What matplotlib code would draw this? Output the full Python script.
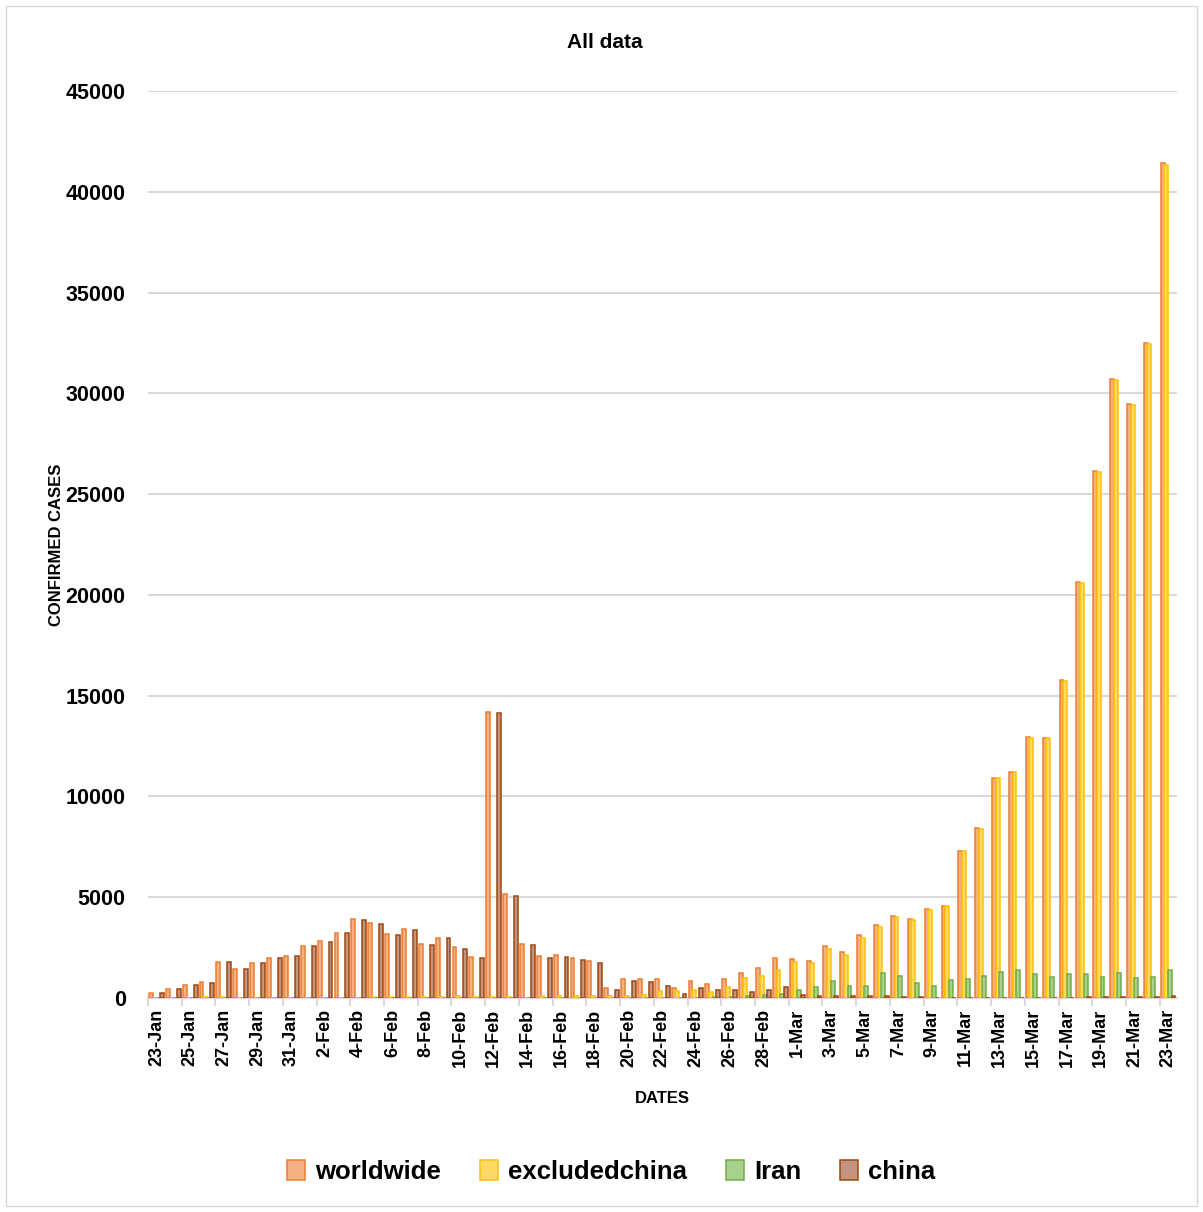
import numpy as np
import matplotlib
matplotlib.use("Agg")
import matplotlib.pyplot as plt
from matplotlib.patches import Rectangle

plt.rcParams['font.family'] = ['Liberation Sans', 'DejaVu Sans']
plt.rcParams['font.weight'] = 'bold'

# daily new confirmed cases, 23 Jan .. 23 Mar
dates = (['%d-Jan' % d for d in range(23, 32)] +
         ['%d-Feb' % d for d in range(1, 30)] +
         ['%d-Mar' % d for d in range(1, 24)])

worldwide = [250, 450, 660, 780, 1790, 1460, 1740, 1990, 2090, 2590,
             2820, 3240, 3900, 3735, 3190, 3440, 2670, 2990, 2540, 2025,
             14180, 5150, 2660, 2075, 2110, 1990, 1840, 500, 950, 960,
             950, 515, 860, 700, 960, 1260, 1480, 1960, 1950, 1840,
             2570, 2280, 3100, 3620, 4050, 3900, 4400, 4570, 7300, 8430,
             10910, 11210, 12945, 12900, 15770, 20630, 26140, 30700, 29460, 32490,
             41420]

excludedchina = [5, 10, 10, 30, 30, 20, 10, 15, 15, 15,
                 20, 20, 20, 45, 50, 50, 30, 35, 100, 35,
                 40, 70, 20, 85, 85, 115, 115, 120, 90, 160,
                 335, 330, 380, 320, 560, 980, 1080, 1410, 1760, 1720,
                 2450, 2150, 2970, 3530, 4000, 3850, 4370, 4550, 7280, 8400,
                 10890, 11190, 12920, 12880, 15750, 20600, 26100, 30660, 29420, 32440,
                 41340]

iran = [0, 0, 0, 0, 0, 0, 0, 0, 0, 0,
        0, 0, 0, 0, 0, 0, 0, 0, 0, 0,
        0, 0, 0, 0, 0, 0, 0, 2, 3, 13,
        10, 15, 18, 34, 44, 106, 143, 205, 385, 523,
        835, 586, 591, 1234, 1076, 743, 595, 881, 958, 1075,
        1289, 1365, 1209, 1053, 1178, 1192, 1046, 1237, 966, 1028,
        1411]

china = [250, 450, 660, 750, 1760, 1440, 1730, 1975, 2075, 2575,
         2800, 3240, 3880, 3690, 3140, 3390, 2640, 2955, 2440, 1990,
         14140, 5080, 2640, 1990, 2040, 1875, 1725, 380, 860, 800,
         615, 180, 480, 380, 400, 280, 400, 550, 170, 100,
         100, 100, 117, 83, 40, 40, 20, 20, 15, 10,
         10, 15, 20, 20, 15, 30, 40, 40, 40, 50,
         80]

series = [
    ('worldwide', worldwide, '#F4B183', '#ED7D31'),
    ('excludedchina', excludedchina, '#FFD966', '#FFC000'),
    ('Iran', iran, '#A9D18E', '#70AD47'),
    ('china', china, '#C39580', '#9E480E'),
]

fig = plt.figure(figsize=(12.03, 12.12), dpi=100)
fig.patches.append(Rectangle((0.005, 0.005), 0.99, 0.99, transform=fig.transFigure,
                             fill=False, edgecolor='#d9d9d9', linewidth=1))
ax = fig.add_axes([0.123, 0.1766, 0.855, 0.7483])

x = np.arange(len(dates))
step = 0.215
width = 0.23
for i, (name, vals, face, edge) in enumerate(series):
    ax.bar(x + (i - 1.5) * step, vals, width=width, color=face, edgecolor=edge,
           linewidth=1.1, label=name, zorder=3)

ax.set_xlim(-0.5, len(dates) - 0.5)
ax.set_ylim(0, 45000)
ax.set_yticks(np.arange(0, 45001, 5000))
ax.grid(axis='y', color='#d9d9d9', linewidth=1.5, zorder=0)
ax.tick_params(axis='y', length=0, pad=16, labelsize=15.5)

ax.set_xticks(x[::2])
ax.set_xticklabels(dates[::2], rotation=90, fontsize=13)
ax.set_xticks(np.arange(-0.5, len(dates), 2), minor=True)
ax.tick_params(axis='x', which='major', length=0, pad=8)
ax.tick_params(axis='x', which='minor', length=6, color='#d9d9d9', width=1.5)

for s in ['top', 'right', 'left']:
    ax.spines[s].set_visible(False)
ax.spines['bottom'].set_color('#d9d9d9')
ax.spines['bottom'].set_linewidth(1.5)

fig.text(0.503, 1 - 43 / 1212, 'All data', fontsize=15, fontweight='bold',
         ha='center', va='center')
ax.set_xlabel('DATES', fontsize=12, fontweight='bold')
ax.xaxis.set_label_coords(0.5, -0.103)
ax.set_ylabel('CONFIRMED CASES', fontsize=12, fontweight='bold')
ax.yaxis.set_label_coords(-0.082, 0.5)

fig.legend(loc='center', bbox_to_anchor=(0.508, 0.033), ncol=4, frameon=False,
           prop={'size': 18.5, 'weight': 'bold'}, handlelength=0.7, handleheight=0.8,
           handletextpad=0.4, columnspacing=1.5)

fig.savefig('out.png', dpi=100)
